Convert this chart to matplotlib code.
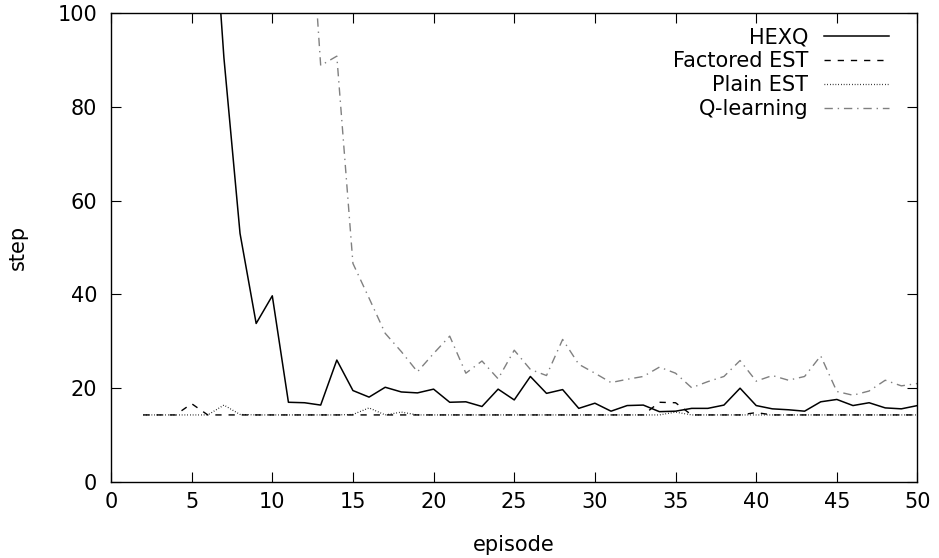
import numpy as np
import matplotlib
matplotlib.use('Agg')
import matplotlib.pyplot as plt

episodes = np.arange(2, 51)

hexq = [300, 250, 200, 170, 140, 90.5, 53, 33.8, 39.7, 17.0, 16.9, 16.4, 26.0, 19.5,
        18.1, 20.2, 19.2, 19.0, 19.8, 17.0, 17.1, 16.1, 19.8, 17.5, 22.5, 18.9, 19.7,
        15.7, 16.8, 15.1, 16.3, 16.4, 15.0, 15.1, 15.7, 15.7, 16.4, 20.0, 16.3, 15.6,
        15.4, 15.1, 17.1, 17.6, 16.3, 16.9, 15.8, 15.6, 16.3]

factored_est = [14.3, 14.3, 14.3, 16.7, 14.3, 14.3, 14.3, 14.3, 14.3, 14.3, 14.3, 14.3,
                14.3, 14.3, 14.3, 14.3, 14.3, 14.3, 14.3, 14.3, 14.3, 14.3, 14.3, 14.3,
                14.3, 14.3, 14.3, 14.3, 14.3, 14.3, 14.3, 14.3, 17.0, 16.9, 14.3, 14.3,
                14.3, 14.3, 14.8, 14.3, 14.3, 14.3, 14.3, 14.3, 14.3, 14.3, 14.3, 14.3,
                14.3]

plain_est = [14.3, 14.3, 14.3, 14.3, 14.3, 16.4, 14.4, 14.3, 14.3, 14.3, 14.3, 14.3,
             14.3, 14.4, 15.8, 14.3, 14.9, 14.3, 14.3, 14.3, 14.3, 14.3, 14.3, 14.3,
             14.3, 14.3, 14.3, 14.3, 14.3, 14.3, 14.3, 14.3, 14.3, 14.9, 14.3, 14.3,
             14.3, 14.3, 14.3, 14.3, 14.3, 14.3, 14.3, 14.3, 14.3, 14.3, 14.3, 14.3,
             14.3]

q_learning = [400, 350, 300, 260, 230, 210, 190, 175, 160, 150, 140, 88.8, 90.8, 46.6,
              39.2, 31.7, 27.8, 23.5, 27.4, 31.1, 23.2, 25.8, 22.0, 28.1, 24.0, 22.7,
              30.4, 25.1, 23.2, 21.2, 21.9, 22.5, 24.5, 23.2, 20.1, 21.4, 22.5, 25.9,
              21.5, 22.7, 21.7, 22.5, 26.9, 19.3, 18.5, 19.4, 21.7, 20.5, 21.0]

plt.rcParams['font.family'] = 'DejaVu Sans'
plt.rcParams['font.size'] = 15

fig = plt.figure(figsize=(9.39, 5.58), dpi=100)
ax = fig.add_axes([0.1182, 0.1362, 0.8589, 0.8405])

ax.plot(episodes, hexq, color='black', linewidth=1.1, label='HEXQ')
ax.plot(episodes, factored_est, color='black', linewidth=1.0, dashes=(4.5, 5), label='Factored EST')
ax.plot(episodes, plain_est, color='black', linewidth=0.9, dashes=(0.6, 1.6), label='Plain EST')
ax.plot(episodes, q_learning, color='#808080', linewidth=1.0, dashes=(6, 3.5, 1, 3.5), label='Q-learning')

ax.set_xlim(0, 50)
ax.set_ylim(0, 100)
ax.set_xticks(np.arange(0, 51, 5))
ax.set_yticks(np.arange(0, 101, 20))
ax.tick_params(direction='in', length=7, width=0.8, top=True, right=True)
ax.tick_params(axis='x', pad=7)
ax.tick_params(axis='y', pad=10)
for s in ax.spines.values():
    s.set_linewidth(1.0)

ax.set_xlabel('episode', labelpad=17)
ax.set_ylabel('step', labelpad=21)

ax.legend(loc='upper right', bbox_to_anchor=(0.9875, 1.01), frameon=False, markerfirst=False,
          handlelength=3.1, handletextpad=0.77, labelspacing=0.19)

fig.savefig('out.png', dpi=100)
